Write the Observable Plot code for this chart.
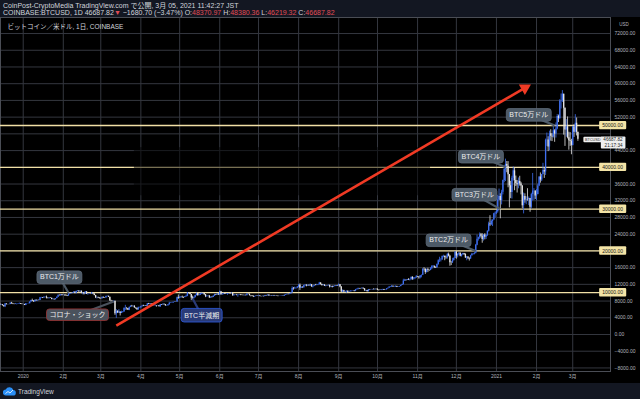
<!DOCTYPE html>
<html><head><meta charset="utf-8">
<script src="https://cdn.jsdelivr.net/npm/d3@7"></script>
<script src="https://cdn.jsdelivr.net/npm/@observablehq/plot@0.6"></script>
<style>
html,body{margin:0;padding:0;background:#131722;width:640px;height:399px;overflow:hidden;font-family:"Liberation Sans","Noto Sans CJK JP",sans-serif;}
#header{height:17px;box-sizing:border-box;padding:2px 0 0 3px;font-size:7px;line-height:7.4px;color:#d1d4dc;white-space:nowrap;}
#header .red{color:#e04c55}
#chart svg{display:block}
#footer{height:16px;display:flex;align-items:center;padding-left:3px;font-size:6.5px;color:#d1d4dc;gap:2px}
</style></head><body>
<div id="header"><div id="line1"></div><div id="line2"></div></div>
<div id="chart"></div>
<div id="footer"><svg width="13" height="9" viewBox="0 0 26 18"><path d="M6 17a6 6 0 0 1-.5-12A8 8 0 0 1 20.5 6.2 5.4 5.4 0 0 1 20 17z" fill="#2a8ff7"/><path d="M5 13l5-4 4 3 6-6" stroke="#fff" stroke-width="1.6" fill="none"/></svg><span>TradingView</span></div>
<script>
// ---------- data ----------
const publishLine = "CoinPost-CryptoMedia TradingView.com で公開, 3月 05, 2021 11:42:27 JST";
const symbolLine = "COINBASE:BTCUSD, 1D";
const chartTitle = "ビットコイン／米ドル, 1日, COINBASE";
const quote = {open: 48370.97, high: 48380.36, low: 46219.32, close: 46687.82, change: -1680.70, pct: -3.47, countdown: "21:17:34", symbol: "BTCUSD"};

const firstDay = "2019-12-14";
const prevClose = 7.25; // close of 2019-12-13, $k
// daily closes in thousands of USD, one row per month
const closeK = [
 7.07,7.11,6.88,6.62,7.28,7.15,7.19,7.15,7.51,7.32,7.25,7.20,7.20,7.25,7.31,7.39,7.22,7.17,
 7.20,6.96,7.34,7.35,7.35,7.76,8.16,8.04,7.81,8.19,8.02,8.18,8.11,8.81,8.81,8.72,8.90,8.91,8.70,8.63,8.72,8.66,8.39,8.43,8.33,8.59,8.90,9.39,9.29,9.50,9.35,
 9.38,9.33,9.29,9.17,9.61,9.75,9.80,9.90,10.16,9.85,10.27,10.35,10.24,10.36,9.90,9.93,9.70,10.18,9.60,9.61,9.68,9.66,9.96,9.66,9.31,8.78,8.81,8.70,8.54,
 8.53,8.91,8.76,8.75,9.07,9.15,8.90,8.03,7.93,7.89,7.94,4.97,5.56,5.17,5.36,5.03,5.33,5.42,6.19,6.20,6.19,5.83,6.48,6.77,6.69,6.76,6.38,6.25,5.88,6.40,6.42,
 6.64,6.80,6.74,6.86,6.78,7.34,7.20,7.37,7.30,6.86,6.89,6.91,6.86,6.87,6.63,7.11,7.05,7.26,7.13,6.85,6.85,7.13,7.49,7.51,7.55,7.70,7.79,7.76,8.78,8.62,
 8.83,8.97,8.90,8.88,9.03,9.15,9.99,9.81,9.54,8.73,8.57,8.82,9.31,9.79,9.31,9.38,9.68,9.73,9.78,9.51,9.06,9.17,9.18,8.72,8.90,8.84,9.20,9.57,9.43,9.70,9.45,
 10.20,9.52,9.66,9.80,9.63,9.67,9.75,9.78,9.77,9.88,9.28,9.47,9.48,9.38,9.45,9.53,9.46,9.38,9.30,9.36,9.29,9.68,9.63,9.29,9.25,9.16,9.00,9.12,9.19,9.14,
 9.23,9.09,9.06,9.13,9.07,9.34,9.25,9.43,9.24,9.28,9.23,9.30,9.24,9.26,9.19,9.13,9.15,9.17,9.21,9.16,9.39,9.53,9.61,9.55,9.71,9.93,11.03,10.93,11.11,11.12,11.35,
 11.81,11.07,11.23,11.19,11.74,11.77,11.60,11.76,11.68,11.89,11.39,11.57,11.78,11.77,11.86,11.91,12.30,11.97,11.74,11.86,11.52,11.68,11.65,11.77,11.34,11.46,11.32,11.53,11.48,11.71,11.66,
 11.92,11.39,10.17,10.47,10.17,10.26,10.37,10.13,10.23,10.34,10.39,10.44,10.33,10.68,10.79,10.95,10.94,10.93,11.08,10.92,10.42,10.53,10.24,10.74,10.69,10.73,10.77,10.70,10.84,10.78,
 10.62,10.57,10.55,10.67,10.79,10.60,10.67,10.92,11.06,11.30,11.37,11.54,11.43,11.43,11.50,11.32,11.37,11.50,11.75,11.91,12.82,12.97,12.93,13.12,13.03,13.07,13.65,13.27,13.46,13.56,13.80,
 13.76,13.56,14.03,14.15,15.59,15.58,14.84,15.48,15.33,15.31,15.70,16.29,16.33,16.07,15.96,16.72,17.66,17.80,17.82,18.68,18.71,18.42,18.37,19.16,18.74,17.15,17.14,17.72,18.18,19.70,
 18.78,19.22,19.45,18.70,19.16,19.38,19.18,18.33,18.55,18.25,18.04,18.81,19.17,19.28,19.44,21.38,22.80,23.14,23.86,23.48,22.74,23.82,23.25,23.73,24.71,26.44,26.27,27.04,27.37,28.88,28.99,
 29.39,32.20,33.00,32.03,34.05,36.86,39.47,40.67,40.24,38.24,35.57,33.99,37.39,39.15,36.83,36.13,35.82,36.63,36.02,35.55,30.83,33.01,32.10,32.29,32.26,32.52,30.43,33.47,34.30,34.32,33.11,
 33.52,35.51,37.67,36.94,38.29,39.26,38.89,46.45,46.53,44.85,48.01,47.44,47.26,48.72,47.94,49.17,52.15,51.68,55.89,55.92,57.49,54.14,48.90,49.71,47.05,46.34,46.16,45.24,
 49.62,48.38,50.54,48.37,46.69
];
const highK = [
 7.30,7.20,7.13,6.95,7.42,7.36,7.22,7.20,7.52,7.69,7.43,7.27,7.43,7.28,7.37,7.52,7.40,7.32,
 7.25,7.21,7.41,7.40,7.50,7.78,8.21,8.46,8.05,8.21,8.28,8.20,8.20,8.88,8.90,8.85,9.01,8.99,9.19,8.75,8.77,8.80,8.67,8.52,8.43,8.60,8.98,9.43,9.44,9.55,9.50,
 9.46,9.47,9.60,9.34,9.75,9.86,9.87,9.95,10.18,10.15,10.40,10.49,10.52,10.40,10.40,10.05,9.98,10.25,10.27,9.70,9.77,9.70,10.03,10.00,9.70,9.37,8.99,8.94,8.80,
 8.75,8.95,8.93,8.85,9.17,9.19,9.16,8.90,8.18,8.00,7.98,7.96,5.97,5.66,5.94,5.37,5.57,5.45,6.41,6.98,6.47,6.22,6.60,6.85,6.97,6.80,6.88,6.33,6.25,6.55,6.53,
 6.74,7.00,7.00,6.90,6.88,7.36,7.44,7.40,7.38,7.31,6.94,7.19,6.92,6.98,6.94,7.20,7.15,7.30,7.27,7.19,6.97,7.17,7.70,7.62,7.70,7.71,7.80,7.79,8.95,9.45,
 9.05,9.00,9.19,8.95,9.08,9.40,10.00,10.00,9.92,9.58,9.18,8.99,9.40,9.94,9.84,9.60,9.89,9.95,9.85,9.84,9.57,9.27,9.31,9.31,8.98,9.01,9.22,9.62,9.60,9.74,9.70,
 10.43,10.23,9.69,9.88,9.86,9.73,9.80,9.80,9.81,9.99,9.95,9.56,9.49,9.50,9.50,9.59,9.56,9.48,9.40,9.40,9.42,9.70,9.70,9.68,9.33,9.29,9.20,9.16,9.23,9.20,
 9.30,9.26,9.13,9.18,9.14,9.37,9.37,9.45,9.45,9.32,9.30,9.34,9.35,9.28,9.27,9.22,9.19,9.20,9.23,9.24,9.42,9.55,9.67,9.66,9.74,10.00,11.40,11.25,11.34,11.17,11.45,
 11.95,12.10,11.47,11.42,11.79,11.91,11.92,11.80,11.82,12.08,11.95,11.60,11.80,11.98,12.00,11.94,12.47,12.40,12.03,11.90,11.87,11.70,11.71,11.81,11.79,11.53,11.59,11.54,11.58,11.72,11.77,
 12.07,11.95,11.45,10.67,10.57,10.35,10.40,10.43,10.35,10.48,10.40,10.46,10.47,10.79,10.94,11.10,11.03,11.03,11.18,11.08,10.98,10.57,10.55,10.77,10.77,10.80,10.80,10.95,10.86,10.84,
 10.95,10.66,10.60,10.68,10.80,10.80,10.68,10.95,11.10,11.50,11.44,11.72,11.56,11.55,11.63,11.55,11.41,11.50,11.80,12.02,13.22,13.20,13.03,13.17,13.35,13.24,13.79,13.85,13.64,13.64,14.09,
 13.87,13.83,14.07,14.24,15.75,15.97,15.70,15.65,15.85,15.45,15.97,16.48,16.48,16.35,16.15,16.88,17.86,18.48,18.14,18.79,18.97,18.75,18.75,19.42,19.48,18.92,17.45,18.22,18.34,19.86,
 19.92,19.31,19.60,19.53,19.19,19.42,19.40,19.28,18.64,18.57,18.30,18.95,19.41,19.35,19.58,21.55,23.77,23.29,24.30,24.18,24.10,23.84,24.12,23.80,24.79,26.87,28.42,27.40,27.39,29.00,29.30,
 29.68,33.30,34.80,33.66,34.50,36.95,40.40,41.95,41.38,41.35,38.26,36.65,37.85,40.10,39.75,37.90,36.85,37.45,37.85,36.40,35.60,33.83,33.65,32.95,34.88,32.90,32.55,33.80,38.53,34.90,34.35,
 34.70,35.98,37.71,38.65,38.30,40.95,39.74,46.75,48.20,47.31,48.65,48.98,48.00,49.70,49.00,50.60,52.60,52.50,56.20,57.55,58.35,57.50,54.20,51.40,52.05,48.40,48.30,46.70,
 49.80,50.20,52.60,51.80,48.38
];
const lowK = [
 7.03,7.02,6.84,6.56,6.43,7.05,7.07,7.11,7.13,7.27,7.15,7.12,7.15,7.07,7.24,7.28,7.19,7.12,
 7.15,6.92,6.90,7.27,7.32,7.34,7.73,7.87,7.69,7.70,8.00,8.00,8.06,8.10,8.60,8.60,8.66,8.80,8.50,8.52,8.47,8.62,8.30,8.25,8.24,8.27,8.56,8.87,9.23,9.20,9.22,
 9.30,9.16,9.13,9.07,9.15,9.54,9.70,9.78,9.86,9.72,9.72,10.24,10.09,10.12,9.72,9.50,9.45,9.65,9.56,9.40,9.58,9.57,9.64,9.53,9.25,8.60,8.50,8.60,8.53,
 8.41,8.51,8.65,8.64,8.73,8.99,8.87,8.00,7.63,7.72,7.59,4.58,3.86,5.04,5.10,4.44,5.00,5.15,5.26,5.75,5.84,5.78,5.70,6.42,6.53,6.55,6.28,6.03,5.87,5.87,6.33,
 6.16,6.58,6.67,6.68,6.69,6.77,7.11,7.15,7.12,6.75,6.78,6.82,6.54,6.80,6.61,6.46,6.93,7.04,7.04,6.77,6.75,6.82,7.03,7.40,7.45,7.52,7.68,7.68,7.72,8.42,
 8.62,8.75,8.63,8.60,8.78,8.94,9.05,9.71,9.48,8.11,8.20,8.55,8.81,9.25,9.13,9.23,9.38,9.55,9.54,9.36,8.82,8.93,9.08,8.70,8.64,8.75,8.83,9.10,9.35,9.41,9.37,
 9.42,9.40,9.43,9.51,9.59,9.57,9.38,9.63,9.60,9.72,9.14,9.23,9.37,9.27,8.92,9.39,9.28,9.29,9.22,9.17,9.26,9.28,9.57,9.22,9.00,9.05,8.84,8.95,9.09,9.08,
 9.10,9.04,9.04,9.05,8.95,9.06,9.21,9.23,9.17,9.14,9.19,9.18,9.20,9.15,9.18,9.02,9.09,9.13,9.12,9.14,9.15,9.31,9.47,9.48,9.53,9.65,9.92,10.60,10.85,10.85,10.98,
 11.20,10.55,11.00,11.07,11.08,11.55,11.40,11.54,11.52,11.48,11.30,11.15,11.45,11.65,11.67,11.68,11.85,11.82,11.56,11.67,11.50,11.40,11.55,11.59,11.12,11.30,11.14,11.29,11.45,11.45,11.55,
 11.55,11.17,10.01,10.01,9.90,10.03,9.87,9.92,10.11,10.21,10.20,10.36,10.21,10.25,10.63,10.67,10.80,10.83,10.89,10.78,10.37,10.36,10.19,10.20,10.60,10.66,10.63,10.70,10.65,10.67,
 10.53,10.40,10.52,10.50,10.66,10.55,10.58,10.65,10.83,11.08,11.22,11.23,11.24,11.28,11.25,11.23,11.26,11.34,11.42,11.72,11.88,12.70,12.74,12.89,12.90,12.80,13.03,12.95,13.02,13.13,13.43,
 13.62,13.25,13.30,13.55,14.10,15.20,14.38,14.70,14.81,15.10,15.26,15.50,15.96,15.78,15.79,15.86,16.57,17.24,17.36,17.77,18.35,17.65,18.00,18.03,18.56,16.33,16.49,17.00,17.55,18.18,
 18.01,18.33,18.92,18.58,18.52,18.92,18.90,18.20,17.65,17.92,17.57,18.03,18.75,19.00,19.06,19.28,21.23,22.35,22.75,23.08,21.83,22.35,22.64,22.73,23.44,24.51,25.83,26.06,25.82,27.33,27.87,
 28.70,29.03,32.00,27.68,31.00,33.40,36.30,36.60,38.70,35.10,30.30,32.50,32.40,36.70,34.40,35.40,33.85,34.85,35.50,33.40,30.10,28.85,31.40,31.05,31.90,30.85,29.24,30.00,31.95,32.05,32.30,
 32.00,33.42,35.38,36.20,36.60,38.20,37.35,38.05,45.00,43.75,43.95,46.25,46.15,47.00,45.98,47.00,48.95,50.70,51.40,53.95,55.50,47.70,45.00,47.20,46.80,44.10,45.00,43.00,
 45.10,47.15,48.15,47.50,46.22
];

const levels = [10, 20, 30, 40, 50];                 // $k horizontal lines
const gridTicks = d3.range(-8, 73, 4);               // $k grid lines
const labelTicks = gridTicks.filter(v => ![20, 40, 48].includes(v)); // axis labels not covered by price tags
const monthTicks = d3.utcMonths(new Date("2020-01-01"), new Date("2021-03-02"));
const viewStart = new Date(Date.UTC(2019, 11, 14, 10, 30));
const viewEnd = new Date(Date.UTC(2021, 2, 30, 5));
const priceDomain = [-8.852, 75.837];

const trend = [{startDate: "2020-03-13", startPrice: 2.15, endDate: "2021-01-23", endPrice: 59.0}];
const watermark = [{from: "2020-03-27", to: "2020-11-11", low: 33.2, high: 44.7}];

const callouts = [
  {label: "BTC1万ドル", date: "2020-01-29", price: 13.76, anchorDate: "2020-02-05", anchorPrice: 10.0, kind: "gray"},
  {label: "コロナ・ショック", date: "2020-02-12", price: 4.67, anchorDate: "2020-03-11", anchorPrice: 7.9, kind: "red"},
  {label: "BTC半減期", date: "2020-05-18", price: 4.55, anchorDate: "2020-05-11", anchorPrice: 8.6, kind: "blue"},
  {label: "BTC2万ドル", date: "2020-11-25", price: 22.6, anchorDate: "2020-12-16", anchorPrice: 20.0, kind: "gray"},
  {label: "BTC3万ドル", date: "2020-12-15", price: 33.5, anchorDate: "2021-01-04", anchorPrice: 30.0, kind: "gray"},
  {label: "BTC4万ドル", date: "2020-12-20", price: 42.6, anchorDate: "2021-01-08", anchorPrice: 40.0, kind: "gray"},
  {label: "BTC5万ドル", date: "2021-01-26", price: 52.6, anchorDate: "2021-02-15", anchorPrice: 50.0, kind: "gray"}
];

// ---------- styles ----------
const theme = {
  gray: {fill: "#4d5a67", stroke: "#5e6b79"},
  red: {fill: "#4a525d", stroke: "#9a3434"},
  blue: {fill: "#2a3b78", stroke: "#2f5ce0"}
};
const upColor = "#3f6ff0", downColor = "#e4e4e4";
const font = '"Liberation Sans","Noto Sans CJK JP",sans-serif';

// ---------- header ----------
const fmt2 = d3.format(".2f");
document.getElementById("line1").textContent = publishLine;
document.getElementById("line2").innerHTML =
  `${symbolLine} ${fmt2(quote.close)}<span class="red">▼</span> ${quote.change < 0 ? "−" : "+"}${fmt2(Math.abs(quote.change))} (${quote.pct < 0 ? "−" : "+"}${fmt2(Math.abs(quote.pct))}%) ` +
  `O:<span class="red">${fmt2(quote.open)}</span> H:<span class="red">${fmt2(quote.high)}</span> L:<span class="red">${fmt2(quote.low)}</span> C:<span class="red">${fmt2(quote.close)}</span>`;

// ---------- table ----------
const t0 = new Date(firstDay).getTime();
const candles = closeK.map((c, i) => ({
  date: new Date(t0 + i * 864e5),
  open: i ? closeK[i - 1] : prevClose,
  close: c, high: highK[i], low: lowK[i]
}));
const candleColor = d => d.close >= d.open ? upColor : downColor;
const trendRows = trend.map(d => ({...d, startDate: new Date(d.startDate), endDate: new Date(d.endDate)}));
const wmRows = watermark.map(d => ({...d, from: new Date(d.from), to: new Date(d.to)}));
const calloutRows = callouts.map(d => ({...d, date: new Date(d.date), anchorDate: new Date(d.anchorDate)}));

const chart = Plot.plot({
  width: 640, height: 366,
  marginLeft: 0, marginRight: 30, marginTop: 0, marginBottom: 12,
  style: {background: "#000", color: "#b2b5be", fontFamily: font, overflow: "visible"},
  x: {type: "utc", domain: [viewStart, viewEnd]},
  y: {domain: priceDomain},
  color: {type: "identity"},
  marks: [
    Plot.gridX({ticks: monthTicks, stroke: "#34373f", strokeOpacity: 1}),
    Plot.gridY({ticks: gridTicks, stroke: "#34373f", strokeOpacity: 1}),
    Plot.frame({stroke: "#4a4d55"}),
    Plot.axisX({ticks: monthTicks, tickSize: 0, tickPadding: 3, fontSize: 5,
      tickFormat: d => d.getUTCMonth() === 0 ? String(d.getUTCFullYear()) : `${d.getUTCMonth() + 1}月`}),
    Plot.axisY({anchor: "right", ticks: labelTicks, tickSize: 0, tickPadding: 4, fontSize: 5,
      tickFormat: v => fmt2(v * 1000)}),
    Plot.ruleY(levels, {stroke: "#f1e0a6", strokeWidth: 1.3}),
    Plot.ruleX(candles, {x: "date", y1: "low", y2: "high", stroke: candleColor, strokeWidth: 0.8}),
    Plot.ruleX(candles, {x: "date", y1: "open", y2: "close", stroke: candleColor, strokeWidth: 1.3}),
    Plot.rect(wmRows, {x1: "from", x2: "to", y1: "low", y2: "high", fill: "#000", fillOpacity: 0.5}),
    Plot.link(trendRows, {x1: "startDate", y1: "startPrice", x2: "endDate", y2: "endPrice", stroke: "#f03a24", strokeWidth: 2.6}),
    Plot.dot(trendRows, {x: "endDate", y: "endPrice", symbol: "triangle", r: 4.5, rotate: 60, fill: "#f03a24", stroke: "none"}),
    Plot.link(calloutRows, {x1: "anchorDate", y1: "anchorPrice", x2: "date", y2: "price", stroke: d => theme[d.kind].fill, strokeWidth: 2.2}),
    Plot.text(calloutRows, {x: "date", y: "price", text: "label", fill: "#ececec", fontSize: 7, ariaDescription: "callouts"}),
    Plot.text(levels, {y: d => d, frameAnchor: "right", dx: 12.5, text: d => fmt2(d * 1000), fill: "#151515", fontSize: 5, ariaDescription: "level-labels"}),
    Plot.text([quote], {y: d => d.close / 1000, frameAnchor: "right", dx: 12, dy: 3, text: d => `${fmt2(d.close)}\n${d.countdown}`, lineHeight: 1.15, fill: "#222", fontSize: 4.6, ariaDescription: "price-label"}),
    Plot.text([quote], {y: d => d.close / 1000, frameAnchor: "right", dx: -10, text: d => d.symbol, fill: "#333", fontSize: 3.8, ariaDescription: "symbol-tag"}),
    Plot.text([chartTitle], {frameAnchor: "top-left", dx: 7, dy: 9, lineAnchor: "middle", textAnchor: "start", fill: "#d1d4dc", fontSize: 6.5}),
    Plot.text(["USD"], {frameAnchor: "top-right", dx: 13.5, dy: 7, lineAnchor: "middle", textAnchor: "middle", fill: "#b2b5be", fontSize: 4.5})
  ]
});
document.getElementById("chart").append(chart);

// backgrounds behind label texts
function addBoxes(label, padX, padY, styleOf) {
  const g = chart.querySelector(`g[aria-description="${label}"]`);
  if (!g) return;
  Array.from(g.querySelectorAll("text")).forEach((t, i) => {
    const b = t.getBBox();
    const s = styleOf(i);
    const r = document.createElementNS("http://www.w3.org/2000/svg", "rect");
    r.setAttribute("x", b.x - padX);
    r.setAttribute("y", b.y - padY);
    r.setAttribute("width", b.width + 2 * padX);
    r.setAttribute("height", b.height + 2 * padY);
    r.setAttribute("rx", s.rx ?? 2);
    r.setAttribute("fill", s.fill);
    r.setAttribute("stroke", s.stroke || "none");
    r.setAttribute("stroke-width", s.strokeWidth ?? 0.8);
    const tr = t.getAttribute("transform");
    if (tr) r.setAttribute("transform", tr);
    g.insertBefore(r, t);
  });
}
addBoxes("callouts", 3, 2.3, i => ({...theme[callouts[i].kind], rx: 3}));
addBoxes("level-labels", 3, 1.2, () => ({fill: "#f3e4a6", rx: 1}));
addBoxes("price-label", 2.5, 0.8, () => ({fill: "#eeeeee", rx: 1}));
addBoxes("symbol-tag", 1.5, 0.8, () => ({fill: "#eeeeee", rx: 1}));
</script>
</body></html>
